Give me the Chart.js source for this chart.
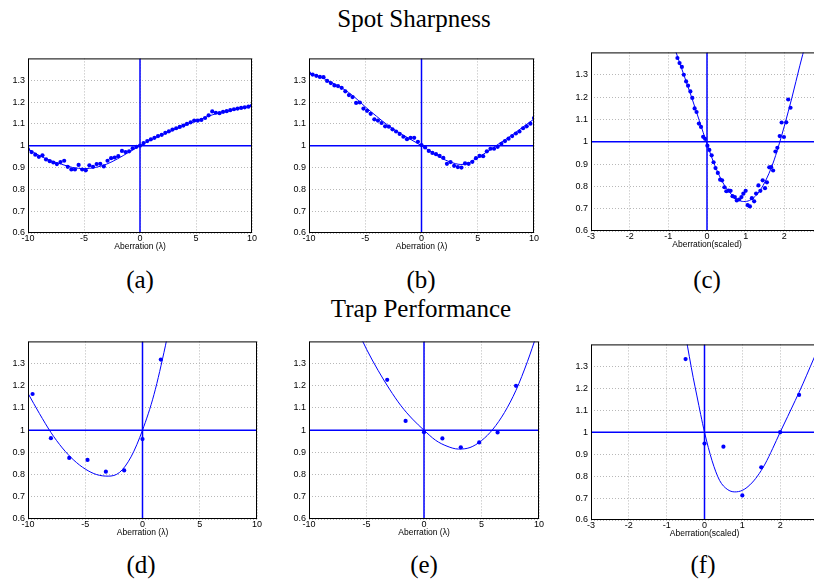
<!DOCTYPE html>
<html>
<head>
<meta charset="utf-8">
<title>Spot Sharpness / Trap Performance</title>
<script src="https://cdn.jsdelivr.net/npm/chart.js@4.4.1/dist/chart.umd.min.js"></script>
<style>
    body { margin: 0; width: 814px; height: 579px; overflow: hidden; background: #fff; position: relative;
           font-family: 'Liberation Serif', 'Times New Roman', serif; color: #000; }
    .heading { position: absolute; transform: translate(-50%, -50%); font-size: 25px; white-space: nowrap; }
    .tag { position: absolute; transform: translate(-50%, -50%); font-size: 25px; }
    canvas { position: absolute; }
</style>
</head>
<body>
<div class="heading" style="left:414px; top:19px;">Spot Sharpness</div>
<div class="heading" style="left:421px; top:309px;">Trap Performance</div>
<div class="tag" style="left:140px; top:280px;">(a)</div>
<div class="tag" style="left:421px; top:280px;">(b)</div>
<div class="tag" style="left:707px; top:280px;">(c)</div>
<div class="tag" style="left:141px; top:565px;">(d)</div>
<div class="tag" style="left:424px; top:565px;">(e)</div>
<div class="tag" style="left:703px; top:565px;">(f)</div>

<canvas id="chartA"></canvas>
<canvas id="chartB"></canvas>
<canvas id="chartC"></canvas>
<canvas id="chartD"></canvas>
<canvas id="chartE"></canvas>
<canvas id="chartF"></canvas>

<script>
// Tick labels
const lambdaTicks = [-10, -5, 0, 5, 10];
const scaledTicks = [-3, -2, -1, 0, 1, 2];
const yTicks = [0.6, 0.7, 0.8, 0.9, 1.0, 1.1, 1.2, 1.3];

// Aberration sample positions (lambda) used by (a) and (b)
const lambdaX = [-10, -9.68, -9.35, -9.03, -8.71, -8.39, -8.06, -7.74, -7.42, -7.10,
    -6.77, -6.45, -6.13, -5.81, -5.48, -5.16, -4.84, -4.52, -4.19, -3.87,
    -3.55, -3.23, -2.90, -2.58, -2.26, -1.94, -1.61, -1.29, -0.97, -0.65,
    -0.32, 0, 0.32, 0.65, 0.97, 1.29, 1.61, 1.94, 2.26, 2.58,
    2.90, 3.23, 3.55, 3.87, 4.19, 4.52, 4.84, 5.16, 5.48, 5.81,
    6.13, 6.45, 6.77, 7.10, 7.42, 7.74, 8.06, 8.39, 8.71, 9.03,
    9.35, 9.68, 10];

// (a) spot sharpness
const sharpA = [0.983, 0.971, 0.959, 0.949, 0.956, 0.937, 0.929, 0.923, 0.916, 0.925,
    0.931, 0.903, 0.891, 0.891, 0.912, 0.891, 0.887, 0.910, 0.903, 0.916,
    0.917, 0.905, 0.931, 0.943, 0.946, 0.952, 0.976, 0.971, 0.974, 0.988,
    0.995, 1.000, 1.012, 1.021, 1.029, 1.036, 1.044, 1.050, 1.059, 1.066,
    1.074, 1.080, 1.086, 1.092, 1.100, 1.107, 1.115, 1.115, 1.118, 1.127,
    1.139, 1.157, 1.151, 1.149, 1.155, 1.158, 1.163, 1.167, 1.170, 1.173,
    1.176, 1.179, 1.184];
const fitAX = [-10, -9, -8, -7, -6, -5, -4, -3, -2, -1, 0, 1, 2, 3, 4, 5, 6, 7, 8, 9, 10];
const fitAY = [0.985, 0.955, 0.932, 0.915, 0.900, 0.895, 0.900, 0.915, 0.940, 0.970, 1.000,
    1.027, 1.050, 1.072, 1.093, 1.113, 1.133, 1.150, 1.162, 1.172, 1.182];

// (b) spot sharpness
const sharpB = [1.332, 1.326, 1.320, 1.315, 1.314, 1.297, 1.287, 1.276, 1.273, 1.265,
    1.249, 1.232, 1.223, 1.196, 1.198, 1.170, 1.160, 1.146, 1.121, 1.115,
    1.104, 1.089, 1.087, 1.075, 1.065, 1.054, 1.041, 1.030, 1.036, 1.036,
    1.018, 1.003, 0.992, 0.976, 0.967, 0.961, 0.953, 0.944, 0.917, 0.925,
    0.908, 0.902, 0.900, 0.919, 0.917, 0.926, 0.943, 0.953, 0.952, 0.974,
    0.986, 0.986, 0.995, 1.009, 1.021, 1.032, 1.044, 1.056, 1.065, 1.080,
    1.089, 1.101, 1.127];
const fitBX = [-10, -9, -8, -7, -6, -5, -4, -3, -2, -1, 0, 1, 2, 3, 3.5, 4, 5, 6, 7, 8, 9, 10];
const fitBY = [1.330, 1.315, 1.290, 1.262, 1.225, 1.178, 1.135, 1.094, 1.060, 1.030, 1.000,
    0.968, 0.937, 0.918, 0.914, 0.917, 0.945, 0.978, 1.013, 1.047, 1.085, 1.122];

// (c) spot sharpness, scaled aberration
const scaledCX = [-0.765, -0.71, -0.65, -0.60, -0.54, -0.49, -0.43, -0.38, -0.32, -0.27,
    -0.21, -0.155, -0.10, -0.05, 0.01, 0.06, 0.12, 0.17, 0.22, 0.28,
    0.34, 0.39, 0.45, 0.50, 0.56, 0.61, 0.66, 0.72, 0.77, 0.83,
    0.89, 0.94, 1.00, 1.05, 1.11, 1.16, 1.22, 1.27, 1.33, 1.38,
    1.44, 1.50, 1.55, 1.61, 1.66, 1.71, 1.77, 1.82, 1.88, 1.93,
    1.99, 2.05, 2.10, 2.16];
const sharpC = [1.375, 1.352, 1.335, 1.300, 1.270, 1.251, 1.225, 1.196, 1.149, 1.133,
    1.081, 1.066, 1.022, 1.013, 0.982, 0.963, 0.939, 0.908, 0.882, 0.860,
    0.830, 0.827, 0.796, 0.778, 0.781, 0.780, 0.756, 0.752, 0.737, 0.741,
    0.752, 0.767, 0.780, 0.716, 0.710, 0.747, 0.733, 0.768, 0.804, 0.780,
    0.827, 0.792, 0.818, 0.885, 0.886, 0.871, 0.956, 0.973, 1.025, 1.086,
    1.021, 1.087, 1.189, 1.152];
const fitCX = [-0.85, -0.6, -0.4, -0.2, 0, 0.2, 0.4, 0.6, 0.8, 0.95, 1.1, 1.3, 1.5, 1.7, 1.85, 2.0, 2.2, 2.4, 2.55];
const fitCY = [1.425, 1.300, 1.200, 1.095, 0.990, 0.895, 0.820, 0.770, 0.740, 0.732, 0.737,
    0.765, 0.820, 0.900, 0.980, 1.070, 1.200, 1.340, 1.440];

// (d) trap performance
const trapDX = [-9.6, -8.0, -6.4, -4.8, -3.2, -1.6, 0, 1.6];
const trapD = [1.163, 0.964, 0.875, 0.866, 0.813, 0.819, 0.960, 1.318];
const fitDX = [-10, -9, -8, -7, -6, -5, -4, -3, -2, -1, 0, 1, 2, 2.2];
const fitDY = [1.166, 1.075, 0.990, 0.920, 0.865, 0.825, 0.800, 0.793, 0.810, 0.880, 1.000, 1.160, 1.380, 1.430];

// (e) trap performance
const trapEX = [-3.2, -1.6, 0, 1.6, 3.2, 4.8, 6.4, 8.0];
const trapE = [1.227, 1.042, 0.991, 0.963, 0.923, 0.945, 0.990, 1.200];
const fitEX = [-5.6, -5, -4, -3, -2, -1, 0, 1, 2, 3, 4, 5, 6, 7, 8, 9, 9.8];
const fitEY = [1.430, 1.365, 1.270, 1.185, 1.110, 1.050, 1.000, 0.955, 0.928, 0.915, 0.922,
    0.953, 1.005, 1.080, 1.180, 1.310, 1.430];

// (f) trap performance, scaled aberration
const trapFX = [-0.5, 0, 0.5, 1.0, 1.5, 2.0, 2.5];
const trapF = [1.333, 0.948, 0.934, 0.712, 0.840, 1.000, 1.170];
const fitFX = [-0.5, -0.3, -0.2, -0.1, 0, 0.2, 0.4, 0.6, 0.8, 1.0, 1.2, 1.4, 1.6, 1.8, 2.0, 2.2, 2.4, 2.6, 2.8, 3.0];
const fitFY = [1.440, 1.250, 1.165, 1.080, 1.000, 0.870, 0.780, 0.740, 0.728, 0.735, 0.760,
    0.800, 0.855, 0.925, 1.000, 1.072, 1.145, 1.220, 1.300, 1.380];

const BLUE = '#0000ff';

function toPoints(xs, ys) {
    return xs.map((x, i) => ({ x: x, y: ys[i] }));
}

// Box around the plot area, matlab style
const boxPlugin = {
    id: 'box',
    afterDatasetsDraw(chart) {
        const ctx = chart.ctx;
        const a = chart.chartArea;
        ctx.save();
        ctx.strokeStyle = '#000';
        ctx.lineWidth = 1;
        ctx.strokeRect(a.left + 0.5, a.top + 0.5, a.right - a.left - 1, a.bottom - a.top - 1);
        ctx.restore();
    }
};

// Render one panel; left/top/plotW/plotH place the plot area on the page
function renderPanel(id, p) {
    const yAxisW = 28, padTop = 5, padRight = 8, xAxisH = 19;
    const canvas = document.getElementById(id);
    canvas.width = yAxisW + p.plotW + padRight;
    canvas.height = padTop + p.plotH + xAxisH;
    canvas.style.left = (p.left - yAxisW) + 'px';
    canvas.style.top = (p.top - padTop) + 'px';

    const gridOpts = { color: '#b8b8b8', lineWidth: 1, drawTicks: false };
    const borderOpts = { display: false, dash: [1, 2] };

    new Chart(canvas.getContext('2d'), {
        type: 'scatter',
        data: {
            datasets: [{
                data: toPoints(p.xs, p.ys),
                showLine: false,
                pointRadius: 2.1,
                pointBorderWidth: 0,
                pointBackgroundColor: BLUE
            }, {
                data: toPoints(p.fitX, p.fitY),
                showLine: true,
                pointRadius: 0,
                borderColor: BLUE,
                borderWidth: 1,
                cubicInterpolationMode: 'monotone',
                clip: 0
            }, {
                data: [{ x: p.xMin, y: 1 }, { x: p.xMax, y: 1 }],
                showLine: true,
                pointRadius: 0,
                borderColor: BLUE,
                borderWidth: 1.5,
                clip: 0
            }, {
                data: [{ x: 0, y: 0.6 }, { x: 0, y: 1.4 }],
                showLine: true,
                pointRadius: 0,
                borderColor: BLUE,
                borderWidth: 1.5,
                clip: 0
            }]
        },
        options: {
            responsive: false,
            animation: false,
            devicePixelRatio: 1,
            layout: { autoPadding: false, padding: { top: padTop, right: padRight, left: 0, bottom: 0 } },
            plugins: { legend: { display: false }, tooltip: { enabled: false } },
            scales: {
                x: {
                    type: 'linear',
                    min: p.xMin,
                    max: p.xMax,
                    afterBuildTicks: s => { s.ticks = p.xTicks.map(v => ({ value: v })); },
                    afterFit: s => { s.height = xAxisH; },
                    ticks: { font: { size: 9 }, color: '#000', padding: 0, maxRotation: 0, autoSkip: false,
                             callback: v => String(v) },
                    grid: gridOpts,
                    border: borderOpts,
                    title: { display: true, text: p.xLabel, font: { size: 8.5 }, color: '#000', padding: 0 }
                },
                y: {
                    min: 0.6,
                    max: 1.4,
                    afterBuildTicks: s => { s.ticks = yTicks.map(v => ({ value: v })); },
                    afterFit: s => { s.width = yAxisW; },
                    ticks: { font: { size: 9 }, color: '#000', padding: 3,
                             callback: v => String(Math.round(v * 10) / 10) },
                    grid: gridOpts,
                    border: borderOpts
                }
            }
        },
        plugins: [boxPlugin]
    });
}

document.addEventListener('DOMContentLoaded', () => {
    Chart.defaults.font.family = "'Liberation Sans', Arial, sans-serif";

    renderPanel('chartA', { left: 28, top: 55, plotW: 224, plotH: 178, xMin: -10, xMax: 10,
        xTicks: lambdaTicks, xLabel: 'Aberration (\u03bb)', xs: lambdaX, ys: sharpA, fitX: fitAX, fitY: fitAY });
    renderPanel('chartB', { left: 309, top: 55, plotW: 225, plotH: 178, xMin: -10, xMax: 10,
        xTicks: lambdaTicks, xLabel: 'Aberration (\u03bb)', xs: lambdaX, ys: sharpB, fitX: fitBX, fitY: fitBY });
    renderPanel('chartC', { left: 591, top: 49, plotW: 232, plotH: 182, xMin: -3, xMax: 3,
        xTicks: scaledTicks, xLabel: 'Aberration(scaled)', xs: scaledCX, ys: sharpC, fitX: fitCX, fitY: fitCY });
    renderPanel('chartD', { left: 28, top: 338, plotW: 229, plotH: 181, xMin: -10, xMax: 10,
        xTicks: lambdaTicks, xLabel: 'Aberration (\u03bb)', xs: trapDX, ys: trapD, fitX: fitDX, fitY: fitDY });
    renderPanel('chartE', { left: 309, top: 338, plotW: 230, plotH: 181, xMin: -10, xMax: 10,
        xTicks: lambdaTicks, xLabel: 'Aberration (\u03bb)', xs: trapEX, ys: trapE, fitX: fitEX, fitY: fitEY });
    renderPanel('chartF', { left: 591, top: 341, plotW: 227, plotH: 179, xMin: -3, xMax: 3,
        xTicks: scaledTicks, xLabel: 'Aberration(scaled)', xs: trapFX, ys: trapF, fitX: fitFX, fitY: fitFY });
});
</script>
</body>
</html>
